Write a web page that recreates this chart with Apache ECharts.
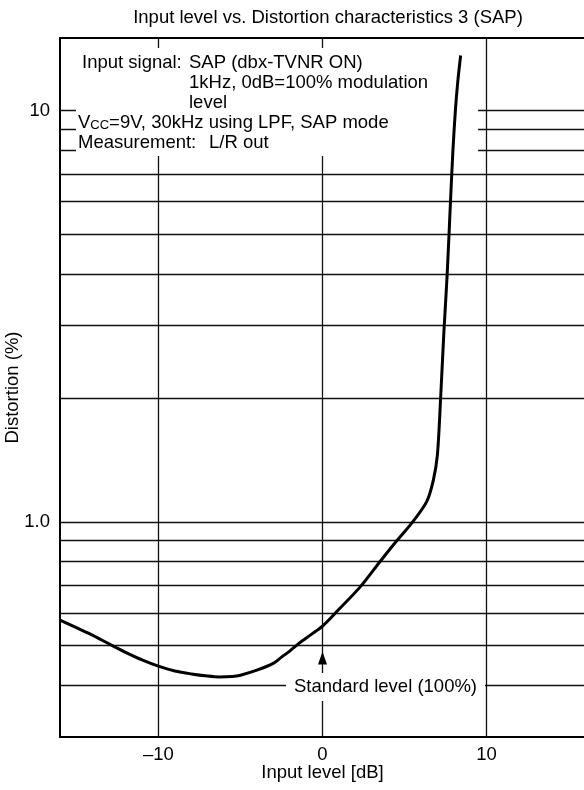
<!DOCTYPE html>
<html>
<head>
<meta charset="utf-8">
<script src="https://cdn.jsdelivr.net/npm/echarts@6/dist/echarts.min.js"></script>
<style>
  html, body { margin: 0; padding: 0; background: #fff; }
  #chart { width: 584px; height: 790px; }
</style>
</head>
<body>
<div id="chart"></div>
<script>
// ---- data ----
const inputLevelDb = [-16, -15, -14, -13, -12, -11, -10, -9, -8, -7, -6.3, -5.5, -5, -4, -3, -2.5, -2, -1.4, -0.7, 0,
  0.9, 2.3, 3.5, 4.5, 5.5, 6.35, 6.75, 7.0, 7.2, 7.4, 7.6, 7.8, 7.95, 8.1, 8.25, 8.42];
const distortionPct = [0.577, 0.553, 0.530, 0.505, 0.482, 0.462, 0.446, 0.434, 0.427, 0.422, 0.420, 0.421, 0.424, 0.436, 0.453, 0.469, 0.485, 0.508, 0.532, 0.558,
  0.607, 0.695, 0.800, 0.897, 1.0, 1.12, 1.26, 1.45, 2.0, 2.9, 4.0, 6.0, 8.0, 10.0, 11.8, 13.6];
const xGridValues = [-10, 0, 10];
const yGridValues = [0.4, 0.5, 0.6, 0.7, 0.8, 0.9, 1, 2, 3, 4, 5, 6, 7, 8, 9, 10];
const xTickLabels = [-10, 0, 10];
const yTickLabels = [1, 10];
const standardLevelDb = 0;
const arrowValue = 0.4665;

const FONT = '"Liberation Sans", Arial, Helvetica, sans-serif';
const FS = 18.5;

const chart = echarts.init(document.getElementById('chart'), null, { renderer: 'canvas' });

const curveData = inputLevelDb.map((x, i) => [x, distortionPct[i]]);
const gridMarkData = xGridValues.map(v => ({ xAxis: v })).concat(yGridValues.map(v => ({ yAxis: v })));

function txt(text, x, y, extra) {
  return {
    type: 'text', x: x, y: y, z: 6, silent: true,
    style: Object.assign({
      text: text, fill: '#000', fontSize: FS, fontFamily: FONT,
      verticalAlign: 'middle', textVerticalAlign: 'middle'
    }, extra || {})
  };
}

chart.setOption({
  animation: false,
  backgroundColor: '#fff',
  title: {
    text: 'Input level vs. Distortion characteristics 3 (SAP)',
    left: 323, top: 3, textAlign: 'center',
    textStyle: { fontSize: FS, fontWeight: 'normal', color: '#000', fontFamily: FONT }
  },
  grid: {
    left: 60, right: -1, top: 38, bottom: 53,
    outerBoundsMode: 'none', containLabel: false,
    show: true, borderColor: '#000', borderWidth: 2, backgroundColor: 'transparent'
  },
  xAxis: {
    type: 'value', min: -16, max: 16, interval: 2,
    axisLine: { show: false }, axisTick: { show: false }, splitLine: { show: false },
    axisLabel: {
      interval: 0, margin: 8, color: '#000', fontSize: FS, fontFamily: FONT,
      formatter: v => xTickLabels.indexOf(v) >= 0 ? (v < 0 ? '\u2013' + Math.abs(v) : String(v)) : ''
    },
    name: 'Input level [dB]', nameLocation: 'middle', nameGap: 26, nameMoveOverlap: false,
    nameTextStyle: { color: '#000', fontSize: FS, fontFamily: FONT }
  },
  yAxis: {
    type: 'log', logBase: 10, min: 0.3, max: 15,
    axisLine: { show: false }, axisTick: { show: false }, splitLine: { show: false },
    axisLabel: {
      margin: 10, color: '#000', fontSize: FS, fontFamily: FONT,
      showMinLabel: false, showMaxLabel: false,
      formatter: v => {
        for (const t of yTickLabels) {
          if (Math.abs(v - t) < 1e-6 * t) return t === 1 ? '1.0' : String(t);
        }
        return '';
      }
    },
    name: 'Distortion (%)', nameLocation: 'middle', nameGap: 38, nameMoveOverlap: false,
    nameTextStyle: { color: '#000', fontSize: FS, fontFamily: FONT }
  },
  series: [
    {
      name: 'grid', type: 'line', data: [], z: 1, silent: true,
      markLine: {
        z: 1, silent: true, symbol: ['none', 'none'], label: { show: false },
        lineStyle: { color: '#111', width: 1.3, type: 'solid' },
        emphasis: { disabled: true },
        data: gridMarkData
      }
    },
    {
      name: 'Distortion', type: 'line', data: curveData, z: 10,
      showSymbol: false, symbol: 'none', smooth: 0.3,
      lineStyle: { color: '#000', width: 3 },
      markPoint: {
        z: 10, silent: true, symbol: 'triangle', symbolSize: [9, 13],
        itemStyle: { color: '#000' }, label: { show: false },
        data: [{ coord: [standardLevelDb, arrowValue] }]
      }
    }
  ],
  graphic: [
    { type: 'rect', z: 5, silent: true, shape: { x: 76, y: 48, width: 402, height: 108 }, style: { fill: '#fff' } },
    { type: 'rect', z: 5, silent: true, shape: { x: 286, y: 673, width: 199, height: 28 }, style: { fill: '#fff' } },
    txt('Input signal:', 82, 63),
    txt('SAP (dbx-TVNR ON)', 189, 63),
    txt('1kHz, 0dB=100% modulation', 189, 83),
    txt('level', 189, 103),
    txt('V{s|CC}=9V, 30kHz using LPF, SAP mode', 78, 123, {
      rich: { s: { fontSize: 13, fontFamily: FONT, fill: '#000', verticalAlign: 'bottom', padding: [0, 0, 1, 0] } }
    }),
    txt('Measurement:', 78, 143),
    txt('L/R out', 209, 143),
    txt('Standard level (100%)', 385.5, 687, { align: 'center', textAlign: 'center' })
  ]
});
</script>
</body>
</html>
